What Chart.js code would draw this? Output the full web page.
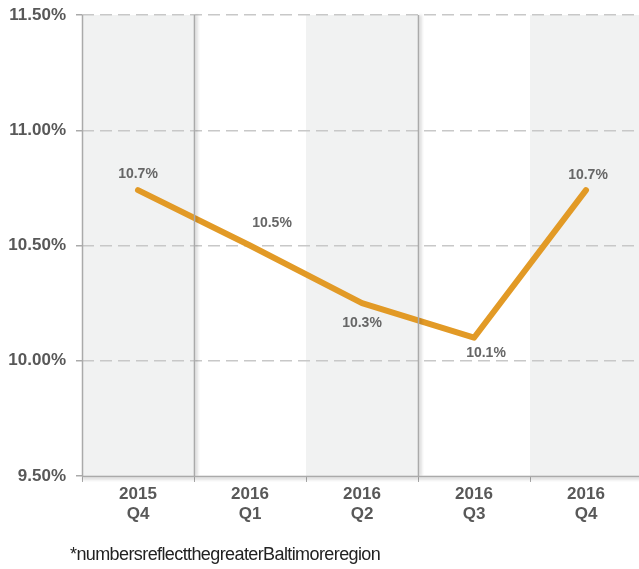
<!DOCTYPE html>
<html>
<head>
<meta charset="utf-8">
<script src="https://cdn.jsdelivr.net/npm/chart.js@4.4.1/dist/chart.umd.min.js"></script>
<style>
  html, body { margin: 0; padding: 0; background: #fff; overflow: hidden; }
  #wrap { position: relative; width: 639px; height: 569px; overflow: hidden; }
  #rateChart { position: absolute; left: 0; top: 0; }
  .note {
    position: absolute; left: 70px; top: 544px;
    font-family: "Liberation Sans Narrow", "Liberation Sans", Arial, sans-serif;
    font-size: 18px; color: #222; letter-spacing: -0.6px; white-space: nowrap;
  }
</style>
</head>
<body>
<div id="wrap">
  <canvas id="rateChart" width="650" height="569"></canvas>
  <div class="note">*numbersreflectthegreaterBaltimoreregion</div>
</div>
<script>
// quarterly rate, greater Baltimore region
const quarters = [["2015", "Q4"], ["2016", "Q1"], ["2016", "Q2"], ["2016", "Q3"], ["2016", "Q4"]];
const rates = [10.74, 10.5, 10.25, 10.1, 10.74];
const yTicks = [9.5, 10.0, 10.5, 11.0, 11.5];

document.addEventListener("DOMContentLoaded", () => {
  const lineColor = "#e29a26";
  const textGray = "#585858";

  // alternating shaded columns, drawn before the grid
  const columnBands = {
    id: "columnBands",
    beforeDraw(chart) {
      const { ctx, chartArea, scales } = chart;
      const half = (scales.x.getPixelForValue(1) - scales.x.getPixelForValue(0)) / 2;
      ctx.save();
      ctx.fillStyle = "#f1f2f2";
      quarters.forEach((q, i) => {
        if (i % 2 !== 0) return;
        const cx = scales.x.getPixelForValue(i);
        ctx.fillRect(cx - half, chartArea.top, half * 2, chartArea.bottom - chartArea.top);
      });
      ctx.restore();
    },
    afterDraw(chart) {
      const { ctx, chartArea, scales } = chart;
      const half = (scales.x.getPixelForValue(1) - scales.x.getPixelForValue(0)) / 2;
      ctx.save();
      ctx.strokeStyle = "#aaaaaa";
      ctx.lineWidth = 1.5;
      // right edge of shaded columns with a soft shadow
      ctx.shadowColor = "rgba(0,0,0,0.25)";
      ctx.shadowBlur = 3;
      ctx.shadowOffsetX = 2;
      quarters.forEach((q, i) => {
        if (i % 2 !== 0) return;
        const x = Math.round(scales.x.getPixelForValue(i) + half) + 0.5;
        if (x > chart.width) return;
        ctx.beginPath();
        ctx.moveTo(x, chartArea.top);
        ctx.lineTo(x, chartArea.bottom);
        ctx.stroke();
      });
      // axis lines
      ctx.shadowOffsetX = 0;
      ctx.shadowOffsetY = 2;
      ctx.beginPath();
      ctx.moveTo(chartArea.left, chartArea.bottom + 0.5);
      ctx.lineTo(chartArea.right, chartArea.bottom + 0.5);
      ctx.stroke();
      ctx.shadowColor = "transparent";
      ctx.beginPath();
      ctx.moveTo(chartArea.left + 0.5, chartArea.top);
      ctx.lineTo(chartArea.left + 0.5, chartArea.bottom);
      ctx.stroke();
      ctx.restore();
    }
  };

  // value labels next to each point
  const valueLabels = {
    id: "valueLabels",
    afterDatasetsDraw(chart) {
      const { ctx } = chart;
      const pts = chart.getDatasetMeta(0).data;
      const place = [[0, -16], [22, -22], [0, 20], [12, 15], [2, -15]];
      ctx.save();
      ctx.font = "bold 14px 'Liberation Sans', Arial, sans-serif";
      ctx.fillStyle = "#666666";
      ctx.textAlign = "center";
      ctx.textBaseline = "middle";
      pts.forEach((p, i) => {
        ctx.fillText(rates[i].toFixed(1) + "%", p.x + place[i][0], p.y + place[i][1]);
      });
      ctx.restore();
    }
  };

  new Chart(document.getElementById("rateChart"), {
    type: "line",
    data: {
      labels: quarters,
      datasets: [
        {
          data: rates,
          borderColor: lineColor,
          borderWidth: 6,
          borderCapStyle: "round",
          borderJoinStyle: "round",
          pointRadius: 0,
          tension: 0,
          fill: false,
        },
      ],
    },
    options: {
      responsive: false,
      animation: false,
      layout: { padding: { top: 15, right: 8, left: 0, bottom: 0 } },
      plugins: {
        legend: { display: false },
        tooltip: { enabled: false },
      },
      scales: {
        x: {
          offset: true,
          afterFit: (scale) => { scale.height = 93; },
          border: { display: false },
          grid: {
            offset: true,
            drawOnChartArea: false,
            drawTicks: true,
            tickLength: 6,
            tickColor: "#aaaaaa",
          },
          ticks: {
            color: textGray,
            padding: 3,
            font: { family: "'Liberation Sans', Arial, sans-serif", size: 17, weight: "bold", lineHeight: 1.15 },
          },
        },
        y: {
          min: yTicks[0],
          max: yTicks[yTicks.length - 1],
          afterFit: (scale) => {
            scale.width = 82;
            scale.paddingTop = 0;
            scale.paddingBottom = 0;
          },
          afterBuildTicks: (scale) => { scale.ticks = yTicks.map((v) => ({ value: v })); },
          border: { display: false, dash: [12, 6] },
          grid: {
            color: (c) => (c.tick && c.tick.value === yTicks[0] ? "rgba(0,0,0,0)" : "#c8c8c8"),
            lineWidth: 1.5,
            tickLength: 6,
            tickColor: "#aaaaaa",
            tickBorderDash: [],
          },
          ticks: {
            color: textGray,
            padding: 10,
            font: { family: "'Liberation Sans', Arial, sans-serif", size: 17, weight: "bold" },
            callback: (v) => Number(v).toFixed(2) + "%",
          },
        },
      },
    },
    plugins: [columnBands, valueLabels],
  });
});
</script>
</body>
</html>
